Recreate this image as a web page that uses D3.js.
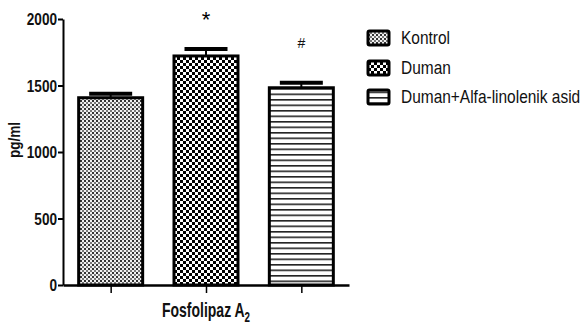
<!DOCTYPE html>
<html>
<head>
<meta charset="utf-8">
<script src="https://cdn.jsdelivr.net/npm/d3@7"></script>
<style>
  body { margin: 0; background: #fff; }
  svg { display: block; font-family: 'Liberation Sans', Arial, sans-serif; }
</style>
</head>
<body>
<div id="chart"></div>
<script>
var groups = ['Kontrol', 'Duman', 'Duman+Alfa-linolenik asid'];
var means = [1408, 1722, 1483];
var errors = [30, 52, 38];
var marks = ['', '*', '#'];
var yTicks = [0, 500, 1000, 1500, 2000];
var patternIds = ['p-kontrol', 'p-duman', 'p-stripes'];

var width = 582, height = 326;
var svg = d3.select('#chart').append('svg')
    .attr('width', width)
    .attr('height', height);

var defs = svg.append('defs');

// fine grey checker
var p1 = defs.append('pattern').attr('id', 'p-kontrol')
    .attr('patternUnits', 'userSpaceOnUse').attr('width', 4).attr('height', 4);
p1.append('rect').attr('width', 4).attr('height', 4).attr('fill', '#f0f0f0');
p1.append('rect').attr('width', 2).attr('height', 2).attr('fill', '#333');
p1.append('rect').attr('x', 2).attr('y', 2).attr('width', 2).attr('height', 2).attr('fill', '#777');

// coarse checker
var p2 = defs.append('pattern').attr('id', 'p-duman')
    .attr('patternUnits', 'userSpaceOnUse').attr('width', 6).attr('height', 6);
p2.append('rect').attr('width', 6).attr('height', 6).attr('fill', '#fff');
p2.append('rect').attr('width', 3).attr('height', 3).attr('fill', '#000');
p2.append('rect').attr('x', 3).attr('y', 3).attr('width', 3).attr('height', 3).attr('fill', '#000');

// horizontal stripes
var p3 = defs.append('pattern').attr('id', 'p-stripes')
    .attr('patternUnits', 'userSpaceOnUse').attr('width', 6).attr('height', 5.5);
p3.append('rect').attr('width', 6).attr('height', 5.5).attr('fill', '#fff');
p3.append('rect').attr('y', 0).attr('width', 6).attr('height', 1.6).attr('fill', '#222');

var y = d3.scaleLinear().domain([0, 2000]).range([285, 19]);
var x = d3.scalePoint().domain(groups).range([63, 349]).padding(0.5);
var barWidth = 64;
var capWidth = 43;

// y axis
var yAxis = svg.append('g')
    .attr('transform', 'translate(63,0)')
    .call(d3.axisLeft(y).tickValues(yTicks).tickSize(5).tickSizeOuter(0).tickFormat(d3.format('d')));
yAxis.select('.domain').attr('stroke', '#000').attr('stroke-width', 2);
yAxis.selectAll('.tick line').attr('stroke', '#000').attr('stroke-width', 2);
yAxis.selectAll('.tick text')
    .attr('x', 0)
    .attr('dy', '0.36em')
    .attr('transform', 'translate(-6,0) scale(0.85,1)')
    .style('font-size', '16px')
    .style('font-weight', 'bold')
    .attr('fill', '#111');

// x axis
var xAxis = svg.append('g')
    .attr('transform', 'translate(0,285)')
    .call(d3.axisBottom(x).tickSize(8).tickSizeOuter(0).tickFormat(''));
xAxis.select('.domain').attr('stroke', '#000').attr('stroke-width', 2.5);
xAxis.selectAll('.tick line').attr('stroke', '#000').attr('stroke-width', 1.5);

// bars
svg.selectAll('rect.bar')
    .data(groups)
    .enter().append('rect')
    .attr('class', 'bar')
    .attr('x', function(d) { return x(d) - barWidth / 2; })
    .attr('y', function(d, i) { return y(means[i]); })
    .attr('width', barWidth)
    .attr('height', function(d, i) { return y(0) - y(means[i]); })
    .attr('fill', function(d, i) { return 'url(#' + patternIds[i] + ')'; })
    .attr('stroke', '#000')
    .attr('stroke-width', 3);

// error bars
var err = svg.selectAll('g.err').data(groups).enter().append('g').attr('class', 'err');
err.append('line')
    .attr('x1', function(d) { return x(d); })
    .attr('x2', function(d) { return x(d); })
    .attr('y1', function(d, i) { return y(means[i]); })
    .attr('y2', function(d, i) { return y(means[i] + errors[i]); })
    .attr('stroke', '#000').attr('stroke-width', 2);
err.append('line')
    .attr('x1', function(d) { return x(d) - capWidth / 2; })
    .attr('x2', function(d) { return x(d) + capWidth / 2; })
    .attr('y1', function(d, i) { return y(means[i] + errors[i]); })
    .attr('y2', function(d, i) { return y(means[i] + errors[i]); })
    .attr('stroke', '#000').attr('stroke-width', 4);

// significance marks
svg.append('text')
    .attr('x', x(groups[1]))
    .attr('y', 27)
    .attr('text-anchor', 'middle')
    .style('font-size', '22px')
    .text(marks[1]);
svg.append('text')
    .attr('x', x(groups[2]))
    .attr('y', 48)
    .attr('text-anchor', 'middle')
    .style('font-size', '14px')
    .attr('fill', '#111')
    .text(marks[2]);

// axis titles
svg.append('text')
    .attr('transform', 'translate(206,317) scale(0.7,1)')
    .attr('text-anchor', 'middle')
    .style('font-size', '20px')
    .style('font-weight', 'bold')
    .attr('fill', '#111')
    .html('Fosfolipaz A<tspan dy="5" font-size="14px">2</tspan>');

svg.append('text')
    .attr('transform', 'translate(20,140) rotate(-90) scale(0.85,1)')
    .attr('text-anchor', 'middle')
    .style('font-size', '16px')
    .style('font-weight', 'bold')
    .attr('fill', '#111')
    .text('pg/ml');

// legend
var legendY = [38, 68, 97];
var legend = svg.selectAll('g.legend').data(groups).enter().append('g')
    .attr('class', 'legend')
    .attr('transform', function(d, i) { return 'translate(368,' + legendY[i] + ')'; });
legend.append('rect')
    .attr('x', 0).attr('y', -7)
    .attr('width', 21).attr('height', 14)
    .attr('rx', 1.5)
    .attr('fill', function(d, i) { return 'url(#' + patternIds[i] + ')'; })
    .attr('stroke', '#000')
    .attr('stroke-width', 3);
legend.append('text')
    .attr('transform', 'translate(33,0) scale(0.86,1)')
    .attr('dy', '0.35em')
    .style('font-size', '18px')
    .attr('fill', '#111')
    .text(function(d) { return d; });
</script>
</body>
</html>
